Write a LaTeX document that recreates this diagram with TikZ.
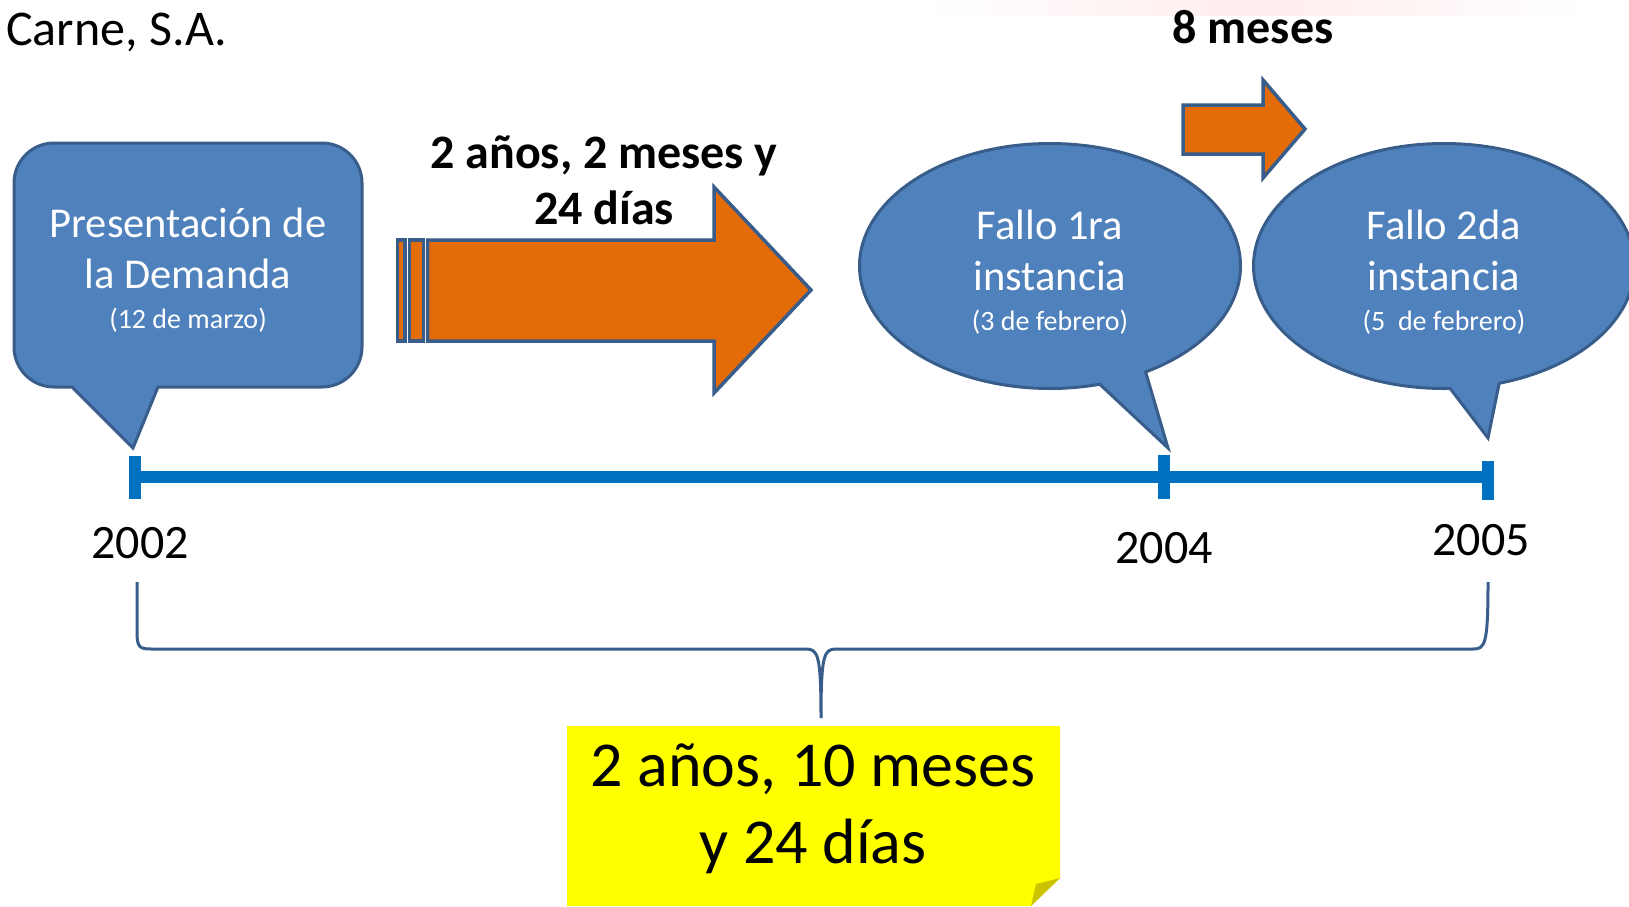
\documentclass[tikz,border=0pt]{standalone}
\usepackage{fontspec}
\setmainfont{Carlito}
\usetikzlibrary{shapes.callouts}
\definecolor{calloutblue}{HTML}{4F81BD}
\definecolor{edgeblue}{HTML}{385D8A}
\definecolor{arroworange}{HTML}{E36C09}
\definecolor{lineblue}{HTML}{0070C0}
\definecolor{flapyellow}{HTML}{CCC200}
\definecolor{noteyellow}{HTML}{FFFF00}
\tikzset{
  bubble/.style={fill=calloutblue, draw=edgeblue, line width=3pt, text=white, align=center, font=\fontsize{42.5}{51}\selectfont},
  orangearrow/.style={fill=arroworange, draw=edgeblue, line width=3.5pt},
  bigbold/.style={font=\bfseries\fontsize{48}{56}\selectfont, align=center},
  year/.style={font=\fontsize{48}{58}\selectfont, anchor=base},
}
\newcommand{\yeartick}[3]{\draw[lineblue, line width=12pt] (#1,#2) -- (#1,#3);}
\newcommand{\smalldate}[1]{{\fontsize{28}{32}\selectfont #1}}

\begin{document}
\begin{tikzpicture}[x=1pt,y=-1pt]
\clip (0,0) rectangle (1629,906);
\fill[white] (0,0) rectangle (1629,906);
\shade[left color=white, right color=white, middle color=red!12, opacity=0.6] (930,0) rectangle (1580,15);
% title
\node[anchor=base west, font=\fontsize{50}{58}\selectfont, inner sep=0] (titulo) at (6,45) {Carne, S.A.};
% timeline
\coordinate (t2002) at (135,477);
\coordinate (t2004) at (1164,477);
\coordinate (t2005) at (1488,477);
\draw[lineblue, line width=12pt] (t2002) -- (t2004) -- (t2005);
\yeartick{135}{456}{499}
\yeartick{1164}{455}{499}
\yeartick{1488}{461}{500}
\node[year] (y2002) at (140,558) {2002};
\node[year] (y2004) at (1164,563) {2004};
\node[year] (y2005) at (1481,555) {2005};
% callouts
\coordinate (tip0) at (133,448);
\coordinate (tip1) at (1168,448);
\coordinate (tip2) at (1488,438);
\draw[bubble] (64,387) -- (72,387) -- (tip0) -- (158,387) -- (160,387) [rounded corners=40pt] -- (362,387) -- (362,143) -- (14,143) -- (14,387) -- (64,387);
\node[text=white, align=center, font=\fontsize{42.5}{51}\selectfont] (demanda) at (188,270) {Presentación de\\la Demanda\\[-11pt]\smalldate{(12 de marzo)}};
\node[bubble, ellipse callout, minimum width=381pt, minimum height=245pt, callout absolute pointer={(tip1)}] (fallo1) at (1050,266) {\rule{0pt}{42pt}Fallo 1ra\\instancia\\[-11pt]\smalldate{(3 de febrero)}};
\node[bubble, ellipse callout, minimum width=381pt, minimum height=245pt, callout absolute pointer={(tip2)}] (fallo2) at (1444,266) {\rule{0pt}{42pt}Fallo 2da\\instancia\\[-11pt]\smalldate{(5~~de febrero)}};
% arrows
\draw[orangearrow] (397.5,240) rectangle (405,341);
\draw[orangearrow] (409.5,240) rectangle (423.5,341);
\draw[orangearrow] (427.5,240) -- (714,240) -- (714,187) -- (811,290) -- (714,393) -- (714,341) -- (427.5,341) -- cycle;
\node[bigbold] (lapso1) at (604,180) {2 años, 2 meses y\\24 días};
\draw[orangearrow] (1183,105) -- (1263,105) -- (1263,80) -- (1305,129) -- (1263,178) -- (1263,154) -- (1183,154) -- cycle;
\node[bigbold, anchor=base] (lapso2) at (1253,43) {8 meses};
% brace
\coordinate (llave) at (821,718);
\draw[edgeblue, line width=3pt] (137,582) -- (137,632) .. controls (137,648) and (140,649) .. (152,649) -- (806,649) .. controls (818,649) and (821,655) .. (llave) .. controls (821,655) and (824,649) .. (836,649) -- (1473,649) .. controls (1485,649) and (1488,645) .. (1488,582);
% note
\fill[noteyellow] (567,726) -- (1060,726) -- (1060,878) -- (1031,906) -- (567,906) -- cycle;
\fill[flapyellow] (1060,878) -- (1036,884) -- (1031,906) -- cycle;
\node[font=\fontsize{64}{77}\selectfont, align=center] (total) at (813,809) {2 años, 10 meses\\y 24 días};
\end{tikzpicture}
\end{document}
